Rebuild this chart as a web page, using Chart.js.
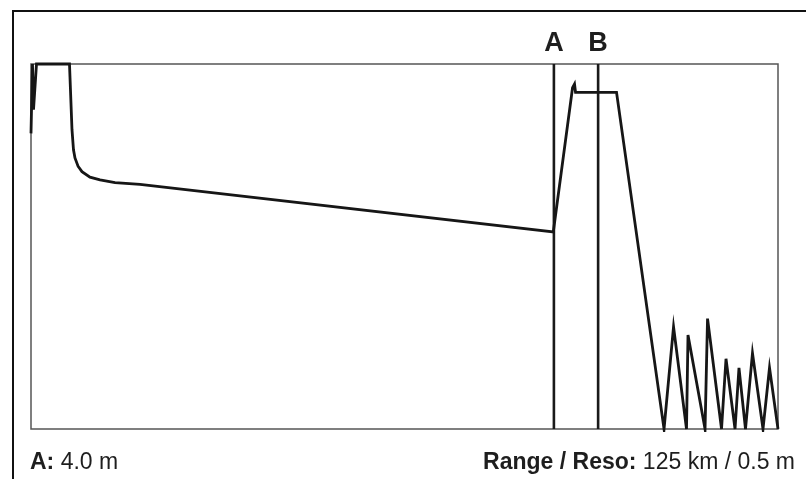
<!DOCTYPE html>
<html>
<head>
<meta charset="utf-8">
<script src="https://cdn.jsdelivr.net/npm/chart.js@4"></script>
<style>
  body { margin: 0; background: #fff; }
  #wrap { position: relative; width: 806px; height: 479px; font-family: "Liberation Sans", Arial, sans-serif; color: #1e1e1e; }
  #myChart { position: absolute; left: 0; top: 0; }
  .lbl { position: absolute; font-size: 23px; line-height: 23px; white-space: nowrap; }
  .mk { position: absolute; font-size: 27px; line-height: 27px; font-weight: bold; transform: translateX(-50%); }
  b { font-weight: bold; }
</style>
</head>
<body>
<div id="wrap">
  <canvas id="myChart" width="806" height="479"></canvas>
  <div class="lbl" style="left:30px; top:450px"><b>A:</b> 4.0 m</div>
  <div class="lbl" style="right:11px; top:450px"><b>Range / Reso:</b> 125 km / 0.5 m</div>
</div>
<script>
// trace, distance in km, level in dB
let dist_km = [0, 0.25, 0.42, 0.92, 6.44, 6.86, 7.11, 7.36, 7.87, 8.53, 9.87, 11.55, 14.06, 18.24,
    87.4, 90.62, 90.95, 91.12, 97.98, 105.93, 107.52, 109.69, 109.94, 112.79, 113.21, 115.55,
    116.3, 117.81, 118.47, 119.56, 120.73, 122.49, 123.58, 125]
let level_db = [32.4, 40, 35, 40, 40, 32.8, 30.6, 29.7, 28.8, 28.2, 27.6, 27.3, 27.0, 26.8,
    21.6, 37.4, 37.8, 36.9, 36.9, 0, 11.2, 0, 10.3, 0, 12.1, 0,
    7.7, 0, 6.7, 0, 8.3, 0, 6.7, 0]

let markers = ['A', 'B']
let marker_km = [87.5, 94.9]

let x_range = [0, 125]
let y_range = [0, 40]

let trace = []
for (let i = 0; i < dist_km.length; i++) {
    trace.push({x: dist_km[i], y: level_db[i]})
}

let datasets = [{
    data: trace,
    borderColor: '#161616',
    borderWidth: 2.8,
    pointRadius: 0,
    tension: 0,
    clip: 3
}]
for (let i = 0; i < markers.length; i++) {
    datasets.push({
        data: [{x: marker_km[i], y: y_range[0]}, {x: marker_km[i], y: y_range[1]}],
        borderColor: '#1a1a1a',
        borderWidth: 2.6,
        pointRadius: 0
    })
}

// plot box plus the outer frame
let frame = {
    id: 'frame',
    beforeDatasetsDraw(chart) {
        let c = chart.ctx
        let a = chart.chartArea
        c.save()
        c.strokeStyle = '#111'
        c.lineWidth = 2
        c.beginPath()
        c.moveTo(13, 479)
        c.lineTo(13, 11)
        c.lineTo(806, 11)
        c.stroke()
        c.strokeStyle = '#555'
        c.lineWidth = 1.5
        c.strokeRect(a.left, a.top, a.right - a.left, a.bottom - a.top)
        c.restore()
    }
}

let ctx = document.getElementById('myChart').getContext('2d')
let myChart = new Chart(ctx, {
    type: 'line',
    data: { datasets: datasets },
    options: {
        responsive: false,
        animation: false,
        layout: { padding: { left: 31, top: 64, right: 28, bottom: 50 } },
        plugins: { legend: { display: false }, tooltip: { enabled: false } },
        scales: {
            x: { type: 'linear', min: x_range[0], max: x_range[1], display: false },
            y: { min: y_range[0], max: y_range[1], display: false }
        }
    },
    plugins: [frame]
})

let wrap = document.getElementById('wrap')
for (let i = 0; i < markers.length; i++) {
    let d = document.createElement('div')
    d.className = 'mk'
    d.textContent = markers[i]
    d.style.left = myChart.scales.x.getPixelForValue(marker_km[i]) + 'px'
    d.style.top = '29px'
    wrap.appendChild(d)
}
</script>
</body>
</html>
